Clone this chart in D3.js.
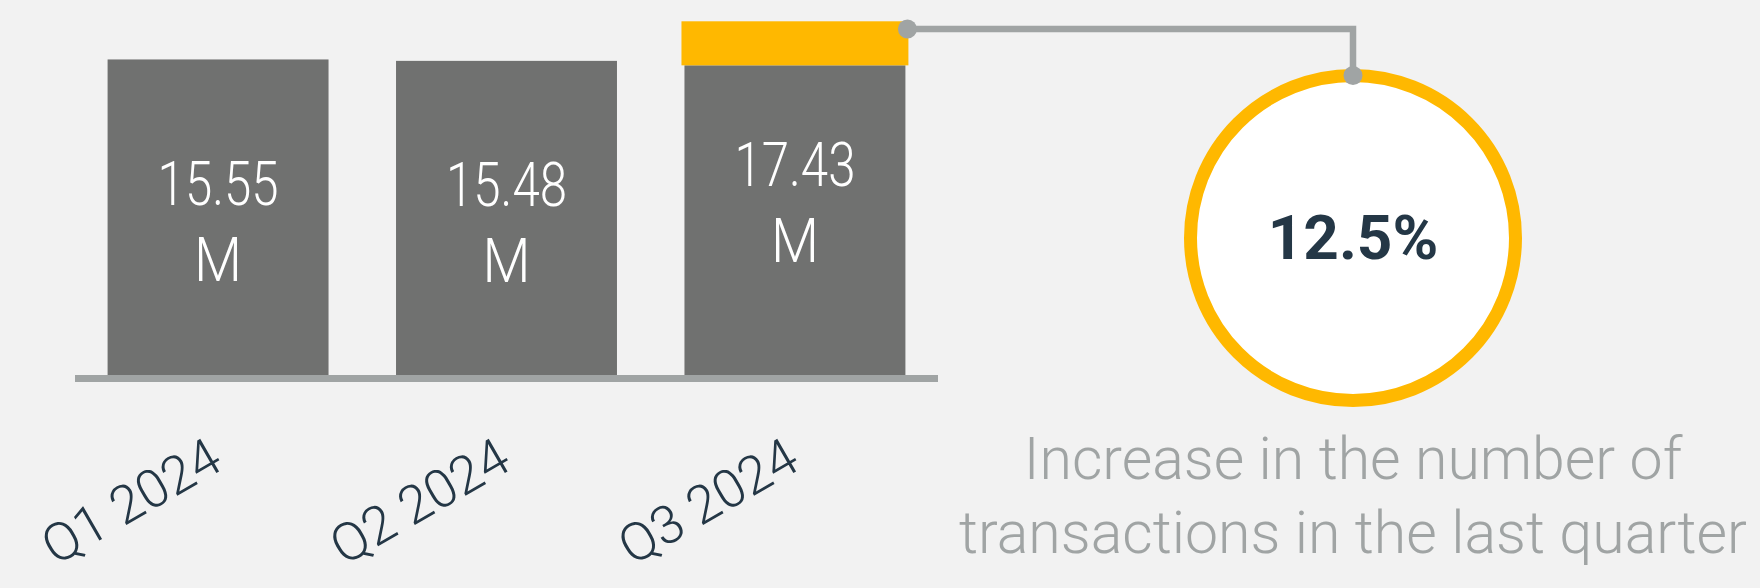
<!DOCTYPE html>
<html>
<head>
<meta charset="utf-8">
<script src="https://cdn.jsdelivr.net/npm/d3@7"></script>
<style>
  html, body { margin: 0; padding: 0; background: #f2f2f2; }
  svg { display: block; }
</style>
</head>
<body>
<svg id="chart"></svg>
<script>
// quarterly transactions (millions)
var quarters = ["Q1 2024", "Q2 2024", "Q3 2024"];
var values = [15.55, 15.48, 17.43];
// yellow cap on the last bar
var highlight = [0, 0, 2.17];
var valueLabels = ["15.55", "15.48", "17.43"];
var unitLabel = "M";
var changeLabel = "12.5%";
var noteLines = ["Increase in the number of", "transactions in the last quarter"];

var width = 1760, height = 588;
var grey = "#707170", yellow = "#ffb800", lineGrey = "#a0a4a4", navy = "#243746";

var svg = d3.select("#chart")
    .attr("width", width)
    .attr("height", height);

svg.append("rect")
    .attr("width", width)
    .attr("height", height)
    .attr("fill", "#f2f2f2");

/** scales */
var x = d3.scaleBand()
    .domain(quarters)
    .range([75, 938])
    .paddingInner(0.234)
    .paddingOuter(0.113);

var y = d3.scaleLinear()
    .domain([0, d3.max(values)])
    .range([375, 21.3]);

var data = quarters.map(function(q, i) {
  return { q: q, value: values[i], extra: highlight[i], label: valueLabels[i] };
});

/** grey bars */
svg.selectAll(".bar")
  .data(data)
  .enter().append("rect")
    .attr("class", "bar")
    .attr("x", function(d) { return x(d.q); })
    .attr("y", function(d) { return y(d.value - d.extra); })
    .attr("width", x.bandwidth())
    .attr("height", function(d) { return y(0) - y(d.value - d.extra); })
    .attr("fill", grey);

/** yellow increase segment, a bit wider than the bar */
svg.selectAll(".cap")
  .data(data.filter(function(d) { return d.extra > 0; }))
  .enter().append("rect")
    .attr("class", "cap")
    .attr("x", function(d) { return x(d.q) - 3; })
    .attr("y", function(d) { return y(d.value); })
    .attr("width", x.bandwidth() + 6)
    .attr("height", function(d) { return y(d.value - d.extra) - y(d.value); })
    .attr("fill", yellow);

/** baseline */
svg.append("rect")
    .attr("x", x.range()[0])
    .attr("y", y(0))
    .attr("width", x.range()[1] - x.range()[0])
    .attr("height", 7)
    .attr("fill", lineGrey);

/** value labels inside bars */
var lab = svg.selectAll(".vlabel")
  .data(data)
  .enter().append("g")
    .attr("class", "vlabel")
    .attr("transform", function(d) {
      var mid = (y(d.value) + y(0)) / 2;
      return "translate(" + (x(d.q) + x.bandwidth() / 2) + "," + mid + ")";
    })
    .style("font-family", "Roboto, sans-serif")
    .style("font-weight", 300)
    .attr("fill", "#ffffff")
    .attr("text-anchor", "middle");

lab.append("text")
    .attr("y", -12)
    .style("font-size", "61px")
    .attr("textLength", 121)
    .attr("lengthAdjust", "spacingAndGlyphs")
    .text(function(d) { return d.label; });

lab.append("text")
    .attr("y", 64)
    .style("font-size", "61px")
    .attr("textLength", 48)
    .attr("lengthAdjust", "spacingAndGlyphs")
    .text(unitLabel);

/** rotated category labels */
svg.selectAll(".xlabel")
  .data(quarters)
  .enter().append("text")
    .attr("class", "xlabel")
    .attr("transform", function(d) {
      return "translate(" + (x(d) + x.bandwidth() / 2 + 7) + ",468) rotate(-30)";
    })
    .attr("text-anchor", "end")
    .style("font-family", "Roboto, sans-serif")
    .style("font-weight", 300)
    .style("font-size", "53px")
    .attr("fill", navy)
    .text(function(d) { return d; });

/** callout circle */
var cx = 1353, cy = 238, r = 162.5;
var last = data[data.length - 1];
var startX = x(last.q) + x.bandwidth() + 2, startY = 29;

svg.append("circle")
    .attr("cx", cx)
    .attr("cy", cy)
    .attr("r", r)
    .attr("fill", "#ffffff")
    .attr("stroke", yellow)
    .attr("stroke-width", 13);

svg.append("path")
    .attr("d", d3.line()([[startX, startY], [cx, startY], [cx, cy - r]]))
    .attr("fill", "none")
    .attr("stroke", lineGrey)
    .attr("stroke-width", 6.5);

svg.selectAll(".dot")
  .data([[startX, startY], [cx, cy - r]])
  .enter().append("circle")
    .attr("class", "dot")
    .attr("cx", function(d) { return d[0]; })
    .attr("cy", function(d) { return d[1]; })
    .attr("r", 9.5)
    .attr("fill", lineGrey);

svg.append("text")
    .attr("x", cx)
    .attr("y", cy + 21)
    .attr("text-anchor", "middle")
    .style("font-family", "Roboto, sans-serif")
    .style("font-weight", 700)
    .style("font-size", "62px")
    .attr("fill", navy)
    .text(changeLabel);

/** note under the circle */
svg.selectAll(".note")
  .data(noteLines)
  .enter().append("text")
    .attr("class", "note")
    .attr("x", cx)
    .attr("y", function(d, i) { return 479 + i * 74; })
    .attr("text-anchor", "middle")
    .style("font-family", "Roboto, sans-serif")
    .style("font-weight", 300)
    .style("font-size", "59px")
    .attr("fill", "#a0a4a4")
    .text(function(d) { return d; });
</script>
</body>
</html>
